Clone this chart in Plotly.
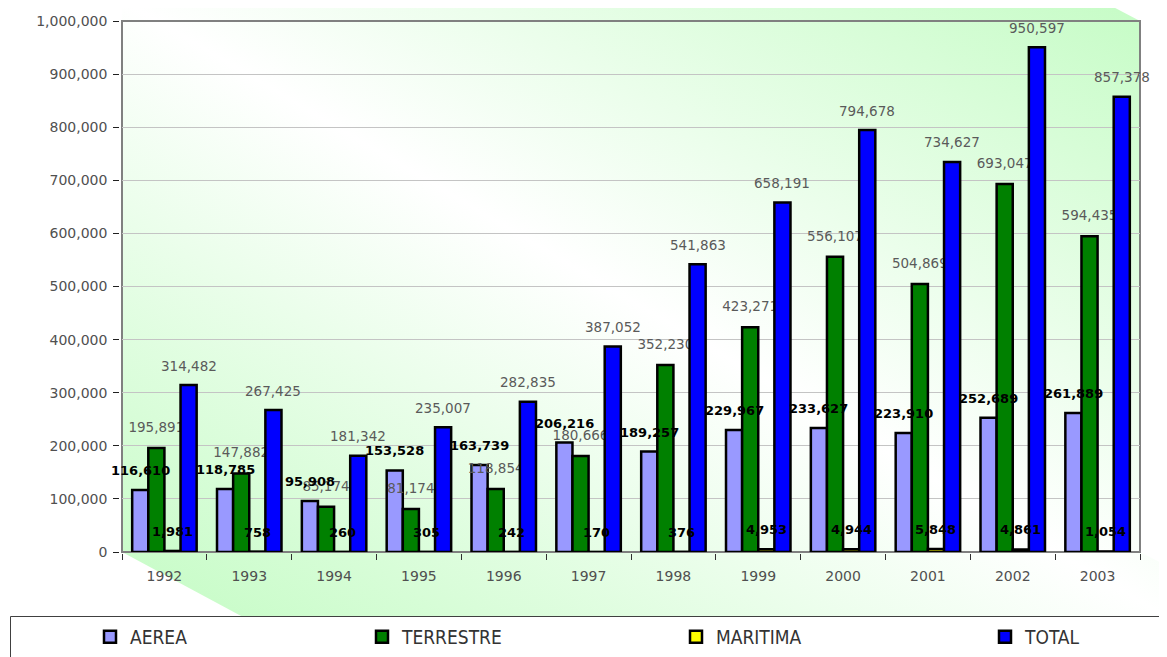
import base64
import plotly.graph_objects as go

# ---------------- data ----------------
years = ["1992", "1993", "1994", "1995", "1996", "1997", "1998", "1999", "2000", "2001", "2002", "2003"]
aerea = [116610, 118785, 95908, 153528, 163739, 206216, 189257, 229967, 233627, 223910, 252689, 261889]
terrestre = [195891, 147882, 85174, 81174, 118854, 180666, 352230, 423271, 556107, 504869, 693047, 594435]
maritima = [1981, 758, 260, 305, 242, 170, 376, 4953, 4944, 5848, 4861, 1054]
total = [314482, 267425, 181342, 235007, 282835, 387052, 541863, 658191, 794678, 734627, 950597, 857378]
y_ticks = [0, 100000, 200000, 300000, 400000, 500000, 600000, 700000, 800000, 900000, 1000000]

# ---------------- layout geometry (page pixels) ----------------
PAGE_W, PAGE_H = 1167, 657
BODY = 8  # default body margin of the html page
W, H = PAGE_W - BODY, PAGE_H - BODY
PL, PR, PT, PB = 122, 1140, 21, 552  # plot area in page pixels
PW, PH = PR - PL, PB - PT
YMAX = 1000000
px_per_unit = PH / YMAX
LABEL_PX = 19.5
label_off = LABEL_PX / px_per_unit

bw = 0.19
offsets = [-2 * bw, -bw, 0.0, bw]
idx = list(range(len(years)))


def px_x(p):
    return (p - PL) / PW


def px_y(p):
    return (PB - p) / PH


# background gradient (decoration) as svg image, in page pixel coords
svg = f'''<svg xmlns="http://www.w3.org/2000/svg" width="{PAGE_W}" height="{PAGE_H}" viewBox="0 0 {PAGE_W} {PAGE_H}" preserveAspectRatio="none">
<defs><linearGradient id="g" x1="0" y1="1" x2="1" y2="0">
<stop offset="0" stop-color="#c4fcc4"/><stop offset="0.5" stop-color="#ffffff"/><stop offset="1" stop-color="#c4fcc4"/>
</linearGradient></defs>
<polygon points="122,0 1100,0 1140,21 1140,552 1167,566 1167,617 243,617 122,552" fill="url(#g)"/>
</svg>'''
src = "data:image/svg+xml;base64," + base64.b64encode(svg.encode()).decode()

series = [
    ("AEREA", aerea, "#9999ff"),
    ("TERRESTRE", terrestre, "#008000"),
    ("MARITIMA", maritima, "#ffff00"),
    ("TOTAL", total, "#0000ff"),
]
legend_names = ["legend", "legend2", "legend3", "legend4"]
bar_z = [-2, -2, -2, 0]
fig = go.Figure()

for k, (name, vals, col) in enumerate(series):
    fig.add_trace(go.Bar(
        x=idx, y=vals, name=name, width=bw, offset=offsets[k],
        marker=dict(color=col, line=dict(color="black", width=2.5)),
        zorder=bar_z[k], legend=legend_names[k], hoverinfo="skip",
    ))

label_font_bold = dict(family="DejaVu Sans", size=13, color="black", weight="bold")
label_font_gray = dict(family="DejaVu Sans", size=13.5, color="#5a5a5a")
label_style = [label_font_bold, label_font_gray, label_font_bold, label_font_gray]

# TERRESTRE labels sit under the TOTAL bars (as in the reference)
fig.add_trace(go.Scatter(
    x=[i + offsets[1] + bw / 2 for i in idx],
    y=[v + label_off for v in terrestre],
    mode="text", text=[f"{v:,}" for v in terrestre],
    textposition="middle center", textfont=label_font_gray,
    showlegend=False, hoverinfo="skip", zorder=-1,
))

# other labels on top of everything
annotations = []
for k in [3, 0, 2]:
    name, vals, col = series[k]
    for i, v in zip(idx, vals):
        annotations.append(dict(
            x=i + offsets[k] + bw / 2, y=v + label_off, xref="x", yref="y",
            text=f"{v:,}", showarrow=False, xanchor="center", yanchor="middle",
            font=label_style[k],
        ))

legend_left_px = [90, 362, 676, 985]
leg_common = dict(
    orientation="h", yanchor="middle", y=px_y(637), xanchor="left",
    bgcolor="rgba(0,0,0,0)", borderwidth=0,
    font=dict(family="Liberation Sans Narrow, DejaVu Sans Condensed, sans-serif", size=19, color="#333333"),
)

fig.update_layout(
    width=W, height=H,
    margin=dict(l=PL - BODY, r=W - (PR - BODY), t=PT - BODY, b=H - (PB - BODY), autoexpand=False),
    paper_bgcolor="white", plot_bgcolor="rgba(0,0,0,0)",
    barmode="overlay",
    annotations=annotations,
    images=[dict(source=src, xref="paper", yref="paper", x=px_x(0), y=px_y(0),
                 sizex=PAGE_W / PW, sizey=PAGE_H / PH, xanchor="left", yanchor="top",
                 sizing="stretch", layer="below")],
    shapes=[
        dict(type="rect", xref="paper", yref="paper", x0=0, x1=1, y0=0, y1=1,
             line=dict(color="#808080", width=2), layer="below"),
        dict(type="rect", xref="paper", yref="paper", x0=px_x(10.5), x1=px_x(1175),
             y0=px_y(616.5), y1=px_y(665), line=dict(color="#404040", width=1),
             fillcolor="white", layer="below"),
    ],
    xaxis=dict(
        range=[-0.5, len(years) - 0.5], tickvals=idx, ticktext=years,
        ticks="", showgrid=False, zeroline=False,
        showline=True, linecolor="#303030", linewidth=2,
        tickfont=dict(family="DejaVu Sans", size=14, color="#505050"),
        ticklabelstandoff=10,
        minor=dict(tickvals=[i - 0.5 for i in range(len(years) + 1)], ticks="outside",
                   ticklen=6, tickcolor="#303030", tickwidth=1, showgrid=False),
    ),
    yaxis=dict(
        range=[0, YMAX], tickvals=y_ticks, tickformat=",",
        showgrid=True, gridcolor="#c4c4c4", gridwidth=1, zeroline=False,
        showline=True, linecolor="#202020", linewidth=2.5,
        ticks="outside", ticklen=6, tickcolor="#202020",
        tickfont=dict(family="DejaVu Sans", size=14, color="#505050"),
        ticklabelstandoff=3,
    ),
    legend=dict(x=px_x(legend_left_px[0]), **leg_common),
    legend2=dict(x=px_x(legend_left_px[1]), **leg_common),
    legend3=dict(x=px_x(legend_left_px[2]), **leg_common),
    legend4=dict(x=px_x(legend_left_px[3]), **leg_common),
)

fig.write_html("out.html")
